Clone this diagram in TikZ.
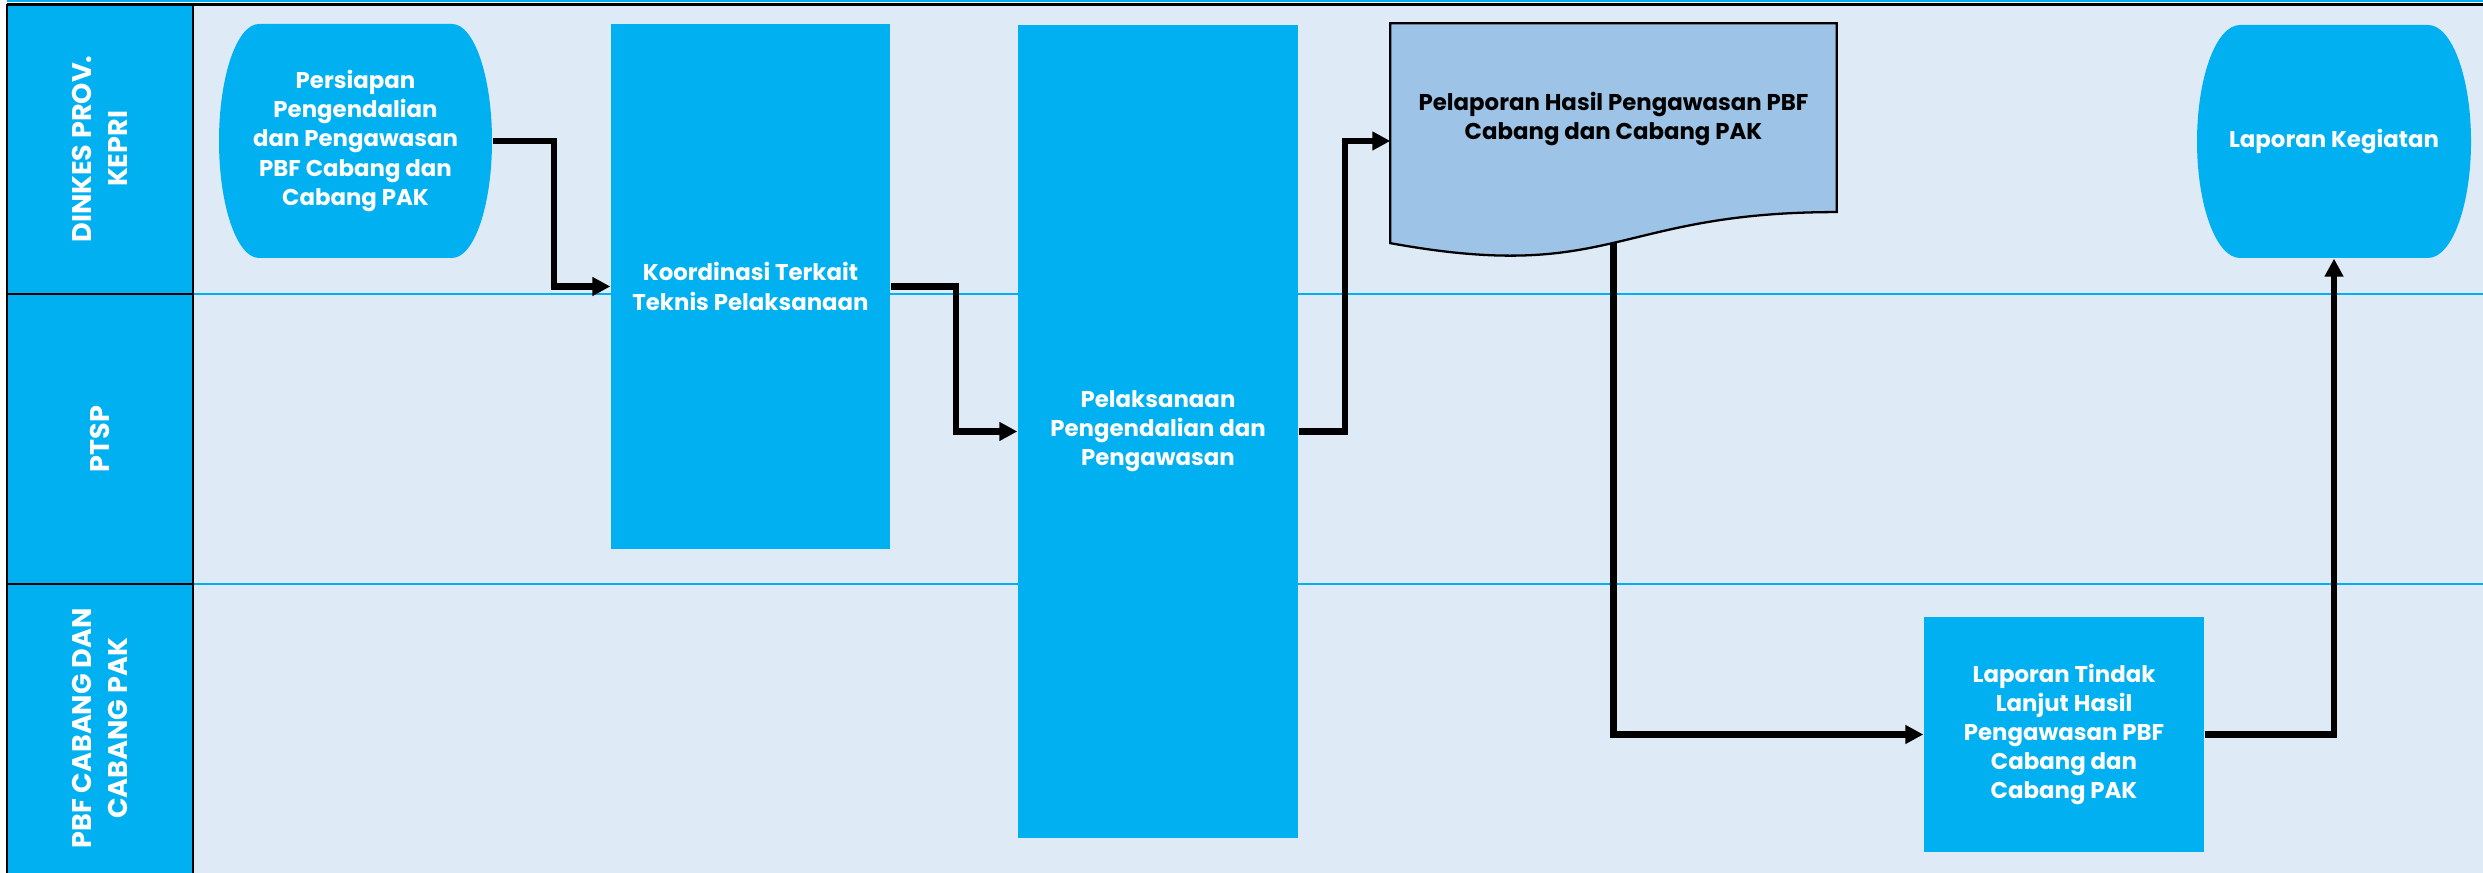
\documentclass[tikz,border=0pt]{standalone}
\usepackage{fontspec}
\setmainfont{Poppins}
\usetikzlibrary{arrows.meta,calc}
\definecolor{laneblue}{HTML}{00B0F0}
\definecolor{lanebg}{HTML}{DEEAF6}
\definecolor{docblue}{HTML}{9DC3E6}

\begin{document}
\begin{tikzpicture}[
    box/.style={fill=laneblue, text=white, align=center, inner sep=0pt,
      font=\bfseries\fontsize{6.5}{8.3}\selectfont},
    plain/.style={text=white, align=center, inner sep=0pt,
      font=\bfseries\fontsize{6.5}{8.3}\selectfont},
    lanename/.style={text=white, align=center, rotate=90,
      font=\bfseries\fontsize{7.7}{10.3}\selectfont},
    flow/.style={line width=1.75pt, -{Triangle[length=0.18cm,width=0.18cm]}},
  ]
  \useasboundingbox (0,0) rectangle (24.83,8.73);
  % lanes
  \fill[lanebg] (1.93,0) rectangle (24.83,8.685);
  \fill[laneblue] (0.07,0) rectangle (1.93,8.685);
  \draw[laneblue, line width=0.6pt] (1.93,5.79) -- (24.83,5.79);
  \draw[laneblue, line width=0.6pt] (1.93,2.89) -- (24.83,2.89);
  \draw[line width=0.6pt] (0.07,5.79) -- (1.93,5.79);
  \draw[line width=0.6pt] (0.07,2.89) -- (1.93,2.89);
  \draw[line width=0.6pt] (0.07,0) -- (0.07,8.685);
  \draw[line width=0.6pt] (1.93,0) -- (1.93,8.685);
  \draw[laneblue, line width=0.6pt] (0.07,8.72) -- (24.83,8.72);
  \draw[line width=0.9pt] (0.07,8.685) -- (24.83,8.685);
  \node[lanename] (dinkes) at (1.00,7.24) {DINKES PROV.\\KEPRI};
  \node[lanename] (ptsp) at (1.00,4.34) {PTSP};
  \node[lanename] (pbf) at (1.00,1.445) {PBF CABANG DAN\\CABANG PAK};

  % shapes
  \fill[laneblue] (2.59,8.49) -- (4.52,8.49)
    arc[start angle=90, end angle=-90, x radius=0.40, y radius=1.17]
    -- (2.59,6.15)
    arc[start angle=270, end angle=90, x radius=0.40, y radius=1.17] -- cycle;
  \fill[laneblue] (22.40,8.48) -- (24.28,8.48)
    arc[start angle=90, end angle=-90, x radius=0.43, y radius=1.165]
    -- (22.40,6.15)
    arc[start angle=270, end angle=90, x radius=0.43, y radius=1.165] -- cycle;

  \node[plain, minimum width=2.73cm, minimum height=2.34cm] (persiapan) at (3.555,7.32)
    {Persiapan\\Pengendalian\\dan Pengawasan\\PBF Cabang dan\\Cabang PAK};
  \node[box, minimum width=2.79cm, minimum height=5.25cm] (koordinasi) at (7.505,5.865)
    {Koordinasi Terkait\\Teknis Pelaksanaan};
  \node[box, minimum width=2.80cm, minimum height=8.13cm] (pelaksanaan) at (11.58,4.415)
    {Pelaksanaan\\Pengendalian dan\\Pengawasan};
  \node[minimum width=4.45cm, minimum height=2.34cm, inner sep=0pt] (pelaporan) at (16.135,7.32) {};
  \filldraw[fill=docblue, line width=0.65pt] (pelaporan.north west) -- (pelaporan.north east)
    -- ($(pelaporan.north east)!0.802!(pelaporan.south east)$)
    .. controls ($(pelaporan.north)!0.802!(pelaporan.south)$)
    and ($(pelaporan.north)!1.107!(pelaporan.south)$)
    .. ($(pelaporan.north west)!0.934!(pelaporan.south west)$) -- cycle;
  \coordinate (pelaporan-out) at ($(pelaporan.north)!0.933!(pelaporan.south)$);
  \node[plain, text=black] (pelaporan-text) at ($(pelaporan.center)+(0,0.22)$)
    {Pelaporan Hasil Pengawasan PBF\\Cabang dan Cabang PAK};
  \node[plain, minimum width=2.74cm, minimum height=2.33cm] (kegiatan) at (23.34,7.315)
    {Laporan Kegiatan};
  \node[box, minimum width=2.80cm, minimum height=2.35cm] (tindak) at (20.64,1.385)
    {Laporan Tindak\\Lanjut Hasil\\Pengawasan PBF\\Cabang dan\\Cabang PAK};

  % connectors
  \draw[flow] (persiapan.east) -- ++(0.61,0) |- (koordinasi.west);
  \draw[flow] (koordinasi.east) -- ++(0.65,0) |- (pelaksanaan.west);
  \draw[flow] (pelaksanaan.east) -- ++(0.46,0) |- (pelaporan.west);
  \draw[flow] (pelaporan-out) |- (tindak.west);
  \draw[flow] (tindak.east) -| (kegiatan.south);
\end{tikzpicture}
\end{document}
